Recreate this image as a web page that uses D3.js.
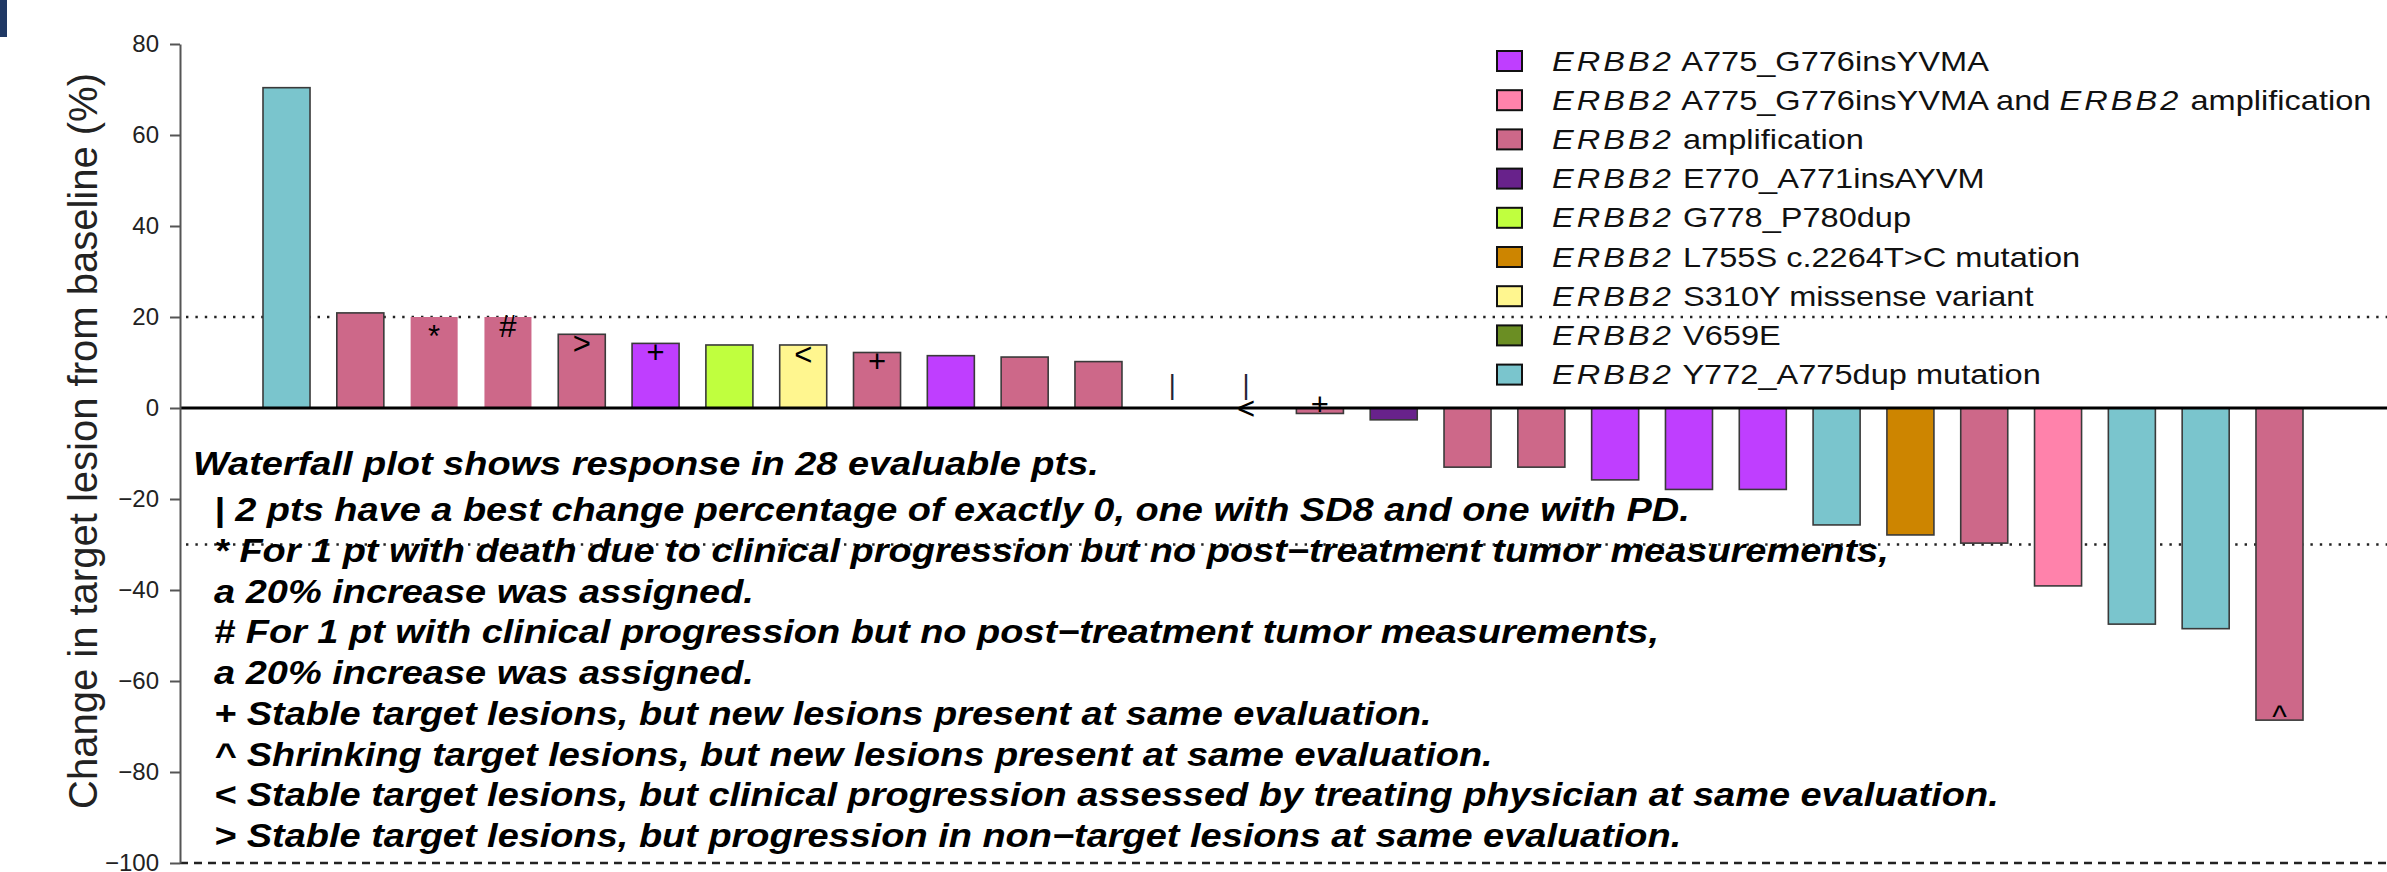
<!DOCTYPE html>
<html>
<head>
<meta charset="utf-8">
<script src="https://cdn.jsdelivr.net/npm/d3@7"></script>
<style>
  body { margin: 0; background: #fff; }
  svg { display: block; }
  .note { white-space: pre; }
</style>
</head>
<body>
<div id="chart"></div>
<script>
// legend categories and their fill colours
const mutationTypes = [
  "ERBB2 A775_G776insYVMA",
  "ERBB2 A775_G776insYVMA and ERBB2 amplification",
  "ERBB2 amplification",
  "ERBB2 E770_A771insAYVM",
  "ERBB2 G778_P780dup",
  "ERBB2 L755S c.2264T>C mutation",
  "ERBB2 S310Y missense variant",
  "ERBB2 V659E",
  "ERBB2 Y772_A775dup mutation"
];
const typeColors = ["#BF3EFF", "#FF82AB", "#CD6889", "#68228B", "#C0FF3E", "#CD8500", "#FFF68F", "#6B8E23", "#7AC5CD"];

// one entry per patient, sorted as in the waterfall
const barValues = [70.4, 20.9, 20, 20, 16.2, 14.2, 13.85, 13.85, 12.2, 11.5, 11.2, 10.2, 0, 0,
  -1.2, -2.6, -13, -13, -15.8, -17.9, -17.9, -25.7, -27.9, -29.7, -39.1, -47.5, -48.5, -68.6];
const barTypes = [8, 2, 2, 2, 2, 0, 4, 6, 2, 0, 2, 2, 7, 2,
  2, 3, 2, 2, 0, 0, 0, 8, 5, 2, 1, 8, 8, 2];
const barMarkers = ["", "", "*", "#", ">", "+", "", "<", "+", "", "", "", "", "<",
  "+", "", "", "", "", "", "", "", "", "", "", "", "", "^"];

const tickValues = [80, 60, 40, 20, 0, -20, -40, -60, -80, -100];
const refLines = [20, -30];
const zeroMarkY = 5;

const noteLines = [
  "Waterfall plot shows response in 28 evaluable pts.",
  "  | 2 pts have a best change percentage of exactly 0, one with SD8 and one with PD.",
  "  * For 1 pt with death due to clinical progression but no post\u2212treatment tumor measurements,",
  "  a 20% increase was assigned.",
  "  # For 1 pt with clinical progression but no post\u2212treatment tumor measurements,",
  "  a 20% increase was assigned.",
  "  + Stable target lesions, but new lesions present at same evaluation.",
  "  ^ Shrinking target lesions, but new lesions present at same evaluation.",
  "  < Stable target lesions, but clinical progression assessed by treating physician at same evaluation.",
  "  > Stable target lesions, but progression in non\u2212target lesions at same evaluation."
];

const width = 2387, height = 872;
const axisX = 180;
const font = "'Liberation Sans', Arial, sans-serif";

// glyphs that sit high in the em box get pushed down a bit
const glyphShift = {"*": "0.35em", "^": "0.17em"};

const svg = d3.select("#chart").append("svg")
  .attr("width", width)
  .attr("height", height);

// slide corner left over in the screenshot
svg.append("rect")
  .attr("x", 0).attr("y", 0)
  .attr("width", 7).attr("height", 37)
  .attr("fill", "#1f3864");

// scales
const x = d3.scaleBand()
  .domain(d3.range(barValues.length))
  .range([263, 2303])
  .paddingInner(0.363);

const y = d3.scaleLinear()
  .domain([-100, 80])
  .range([863, 44]);

// dotted reference lines
svg.selectAll("line.ref")
  .data(refLines)
  .join("line")
    .attr("class", "ref")
    .attr("x1", axisX + 6).attr("x2", width)
    .attr("y1", d => y(d)).attr("y2", d => y(d))
    .attr("stroke", "#222")
    .attr("stroke-width", 2.4)
    .attr("stroke-dasharray", "2.4,7");

// dashed line at the bottom
svg.append("line")
  .attr("x1", axisX).attr("x2", width)
  .attr("y1", y(-100)).attr("y2", y(-100))
  .attr("stroke", "#222")
  .attr("stroke-width", 2.4)
  .attr("stroke-dasharray", "8,6");

// bars
svg.selectAll("rect.bar")
  .data(barValues)
  .join("rect")
    .attr("class", "bar")
    .attr("x", (d, i) => x(i))
    .attr("width", x.bandwidth())
    .attr("y", d => y(Math.max(0, d)))
    .attr("height", d => Math.abs(y(d) - y(0)))
    .attr("fill", (d, i) => typeColors[barTypes[i]])
    .attr("stroke", (d, i) => (barMarkers[i] === "*" || barMarkers[i] === "#") ? "none" : "#3a3a3a")
    .attr("stroke-width", 1.6);

// zero line
svg.append("line")
  .attr("x1", axisX).attr("x2", width)
  .attr("y1", y(0)).attr("y2", y(0))
  .attr("stroke", "#000")
  .attr("stroke-width", 3);

// markers inside the bar ends
svg.selectAll("text.mark")
  .data(barValues.map((v, i) => ({v, i, m: barMarkers[i]})).filter(d => d.m))
  .join("text")
    .attr("class", "mark")
    .attr("x", d => x(d.i) + x.bandwidth() / 2)
    .attr("y", d => y(d.v - Math.sign(d.v) * 2))
    .attr("dy", d => glyphShift[d.m] || null)
    .attr("text-anchor", "middle")
    .attr("dominant-baseline", "central")
    .style("font-family", font)
    .style("font-size", "31px")
    .text(d => d.m);

// "|" for the two patients with exactly 0
svg.selectAll("text.zero")
  .data(barValues.map((v, i) => ({v, i})).filter(d => d.v === 0))
  .join("text")
    .attr("class", "zero")
    .attr("x", d => x(d.i) + x.bandwidth() / 2)
    .attr("y", y(zeroMarkY))
    .attr("text-anchor", "middle")
    .attr("dominant-baseline", "central")
    .style("font-family", font)
    .style("font-size", "27px")
    .attr("fill", "#223")
    .text("|");

// y axis
const yAxis = svg.append("g")
  .attr("transform", `translate(${axisX},0)`)
  .call(d3.axisLeft(y).tickValues(tickValues).tickSize(10).tickSizeOuter(0).tickPadding(11));

yAxis.select(".domain").attr("stroke", "#555").attr("stroke-width", 2);
yAxis.selectAll(".tick line").attr("stroke", "#555").attr("stroke-width", 2);
yAxis.selectAll(".tick text")
  .attr("fill", "#222")
  .style("font-family", font)
  .style("font-size", "24px");

svg.append("text")
  .attr("transform", "translate(97,441) rotate(-90)")
  .attr("text-anchor", "middle")
  .attr("fill", "#222")
  .style("font-family", font)
  .style("font-size", "40px")
  .text("Change in target lesion from baseline (%)");

// legend
const legend = svg.append("g");
const rows = legend.selectAll("g")
  .data(mutationTypes)
  .join("g")
    .attr("transform", (d, i) => `translate(0,${61 + i * 39.2})`);

rows.append("rect")
  .attr("x", 1497).attr("y", -10)
  .attr("width", 25).attr("height", 20)
  .attr("fill", (d, i) => typeColors[i])
  .attr("stroke", "#111")
  .attr("stroke-width", 2);

rows.append("text")
  .attr("transform", "translate(1552,9.5) scale(1.215,1)")
  .attr("fill", "#111")
  .style("font-family", font)
  .style("font-size", "26.8px")
  .each(function(d) {
    const t = d3.select(this);
    d.split(/(ERBB2)/).filter(s => s).forEach(s => {
      t.append("tspan")
        .style("font-style", s === "ERBB2" ? "italic" : "normal")
        .style("letter-spacing", s === "ERBB2" ? "2.5px" : null)
        .text(s);
    });
  });

// explanatory notes (the heading line sits a little apart from the rest)
const notes = svg.append("g")
  .attr("transform", "translate(193,475) scale(1.15,1)");

notes.selectAll("text")
  .data(noteLines)
  .join("text")
    .attr("class", "note")
    .attr("xml:space", "preserve")
    .attr("x", 0)
    .attr("y", (d, i) => i * 40.75 + (i > 0 ? 5.5 : 0))
    .attr("fill", "#000")
    .style("font-family", font)
    .style("font-size", "33px")
    .style("font-weight", "bold")
    .style("font-style", "italic")
    .text(d => d);
</script>
</body>
</html>
